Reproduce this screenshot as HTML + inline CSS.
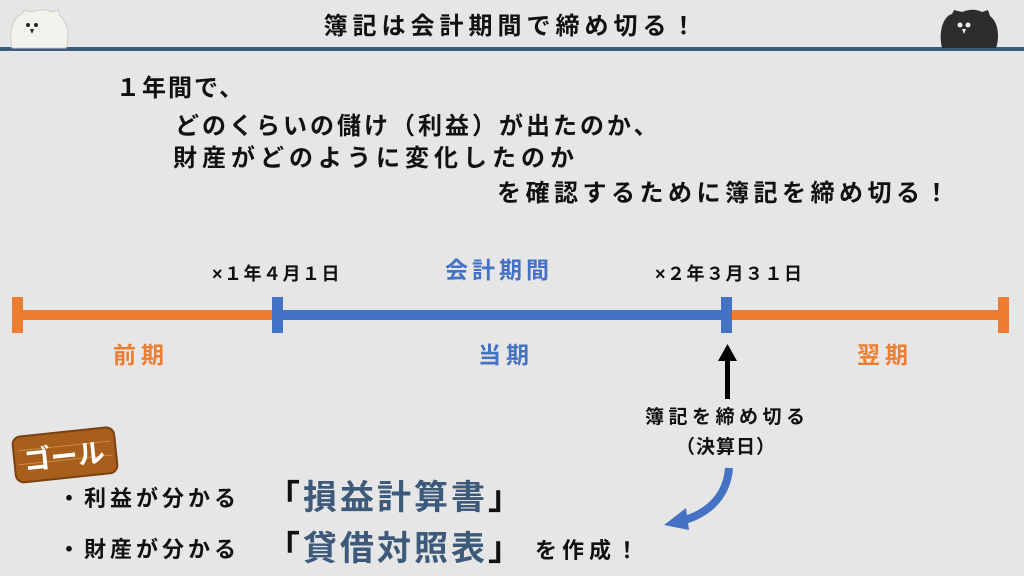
<!DOCTYPE html>
<html><head><meta charset="utf-8"><style>
body{margin:0;width:1024px;height:576px;background:#e6e6e6;position:relative;overflow:hidden;font-family:"Liberation Sans","Noto Sans CJK JP",sans-serif;font-weight:bold;color:#111}
.t{position:absolute;white-space:nowrap;line-height:1}
</style></head><body>
<svg width="1024" height="576" style="position:absolute;left:0;top:0">
<rect x="0" y="47" width="1024" height="4" fill="#3d5a7a"/>
<path d="M12 48 C8 30 14 16 22 14 L24 10 L32 12 C40 9 46 9 52 12 L58 10 L60 16 C68 22 70 36 66 48 Z" fill="#f3f2ec" stroke="#ccc"/>
<circle cx="28" cy="25" r="2" fill="#222"/><circle cx="36" cy="25" r="2" fill="#222"/><path d="M30 29 L34 29 L32 34Z" fill="#222"/>
<path d="M942 48 C938 30 944 16 952 14 L954 10 L962 12 C970 9 976 9 982 12 L988 10 L990 16 C998 22 1000 36 996 48 Z" fill="#2c2c2c"/>
<circle cx="960" cy="25" r="2.5" fill="#eee"/><circle cx="968" cy="25" r="2.5" fill="#eee"/><path d="M962 29 L966 29 L964 34Z" fill="#eee"/>
<rect x="18" y="310" width="260" height="10" fill="#ed7d31"/>
<rect x="278" y="310" width="449" height="10" fill="#4472c4"/>
<rect x="727" y="310" width="277" height="10" fill="#ed7d31"/>
<rect x="12" y="297" width="11" height="36" fill="#ed7d31"/>
<rect x="998" y="297" width="11" height="36" fill="#ed7d31"/>
<rect x="272" y="297" width="11" height="36" fill="#4472c4"/>
<rect x="721" y="297" width="11" height="36" fill="#4472c4"/>
<rect x="725" y="358" width="5" height="41" fill="#000"/>
<path d="M718 361 L727.5 344 L737 361Z" fill="#000"/>
<path d="M729 468 C727 495 710 512 685 520" stroke="#4472c4" stroke-width="8" fill="none"/>
<path d="M664 525 L686 508 L689 530Z" fill="#4472c4"/>
<g transform="rotate(-6 64 455)">
<rect x="14" y="432" width="102" height="46" rx="8" fill="#a85f1c"/>
<rect x="14" y="432" width="102" height="46" rx="8" fill="none" stroke="#7a420f" stroke-width="2"/>
<line x1="18" y1="446" x2="112" y2="446" stroke="#c98a4a" stroke-width="1"/>
<line x1="18" y1="460" x2="112" y2="460" stroke="#c98a4a" stroke-width="1"/>
<text x="64" y="466" text-anchor="middle" font-size="27" font-weight="bold" fill="#fff" font-family="Liberation Sans,Noto Sans CJK JP,sans-serif">ゴール</text>
</g>
</svg>
<div class="t" style="left:0;width:1024px;text-align:center;top:15px;font-size:24px;letter-spacing:5px">簿記は会計期間で締め切る！</div>
<div class="t" style="left:116px;top:77px;font-size:24px;letter-spacing:2px">１年間で、</div>
<div class="t" style="left:175px;top:115px;font-size:24px;letter-spacing:3px">どのくらいの儲け（利益）が出たのか、</div>
<div class="t" style="left:173px;top:147px;font-size:24px;letter-spacing:5px">財産がどのように変化したのか</div>
<div class="t" style="left:497px;top:182px;font-size:24px;letter-spacing:4.5px">を確認するために簿記を締め切る！</div>
<div class="t" style="left:212px;top:265px;font-size:18px;letter-spacing:1.5px">×１年４月１日</div>
<div class="t" style="left:445px;top:259px;font-size:23px;letter-spacing:4px;color:#4472c4">会計期間</div>
<div class="t" style="left:655px;top:265px;font-size:18px;letter-spacing:1.5px">×２年３月３１日</div>
<div class="t" style="left:113px;top:344px;font-size:23px;letter-spacing:5px;color:#ed7d31">前期</div>
<div class="t" style="left:478px;top:344px;font-size:23px;letter-spacing:5px;color:#4472c4">当期</div>
<div class="t" style="left:857px;top:344px;font-size:23px;letter-spacing:5px;color:#ed7d31">翌期</div>
<div class="t" style="left:645px;top:408px;font-size:19px;letter-spacing:4.5px">簿記を締め切る</div>
<div class="t" style="left:676px;top:438px;font-size:19px;letter-spacing:1px">（決算日）</div>
<div class="t" style="left:58px;top:488px;font-size:22px;letter-spacing:4px">・利益が分かる</div>
<div class="t" style="left:58px;top:539px;font-size:22px;letter-spacing:4px">・財産が分かる</div>
<div class="t" style="left:266px;top:481px;font-size:34px;letter-spacing:3px"><span>「</span><span style="color:#3d5a7a">損益計算書</span><span>」</span></div>
<div class="t" style="left:266px;top:532px;font-size:34px;letter-spacing:3px"><span>「</span><span style="color:#3d5a7a">貸借対照表</span><span>」</span></div>
<div class="t" style="left:535px;top:540px;font-size:22px;letter-spacing:5px">を作成！</div>
</body></html>
